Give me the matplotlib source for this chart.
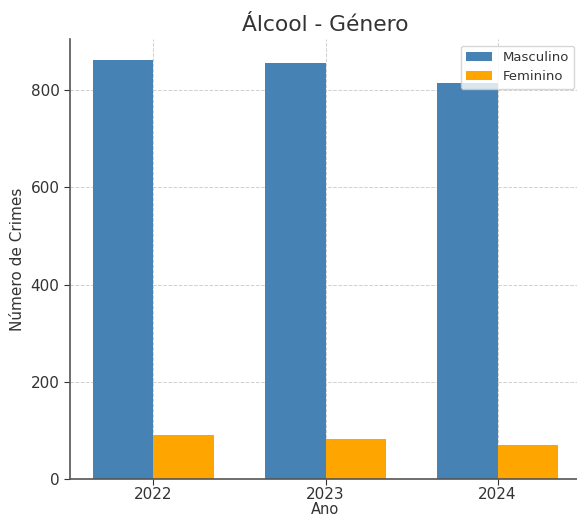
import matplotlib.pyplot as plt
import numpy as np

# dados
anos = ['2022', '2023', '2024']
masculino = [862, 855, 814]
feminino = [91, 83, 69]

plt.rcParams['font.family'] = 'DejaVu Sans'
txt = '#333333'

fig = plt.figure(figsize=(5.77, 5.18), dpi=100)
ax = fig.add_axes([70 / 577, 39 / 518, 511 / 577, 440 / 518])

x = np.arange(len(anos))
w = 0.35
ax.bar(x - w / 2, masculino, w, color='steelblue', label='Masculino', zorder=2)
ax.bar(x + w / 2, feminino, w, color='orange', label='Feminino', zorder=2)

ax.set_xticks(x)
ax.set_xticklabels(anos)
ax.set_title('Álcool - Género', fontsize=15.7, color=txt)
ax.set_xlabel('Ano', fontsize=10.5, color=txt, labelpad=0)
ax.set_ylabel('Número de Crimes', fontsize=11, color=txt)
ax.tick_params(colors=txt, labelsize=11, length=4)
ax.tick_params(axis='x', pad=1.5)
ax.grid(True, linestyle='--', color='#d0d0d0', linewidth=0.7, zorder=0)
for s in ['top', 'right']:
    ax.spines[s].set_visible(False)
for s in ['left', 'bottom']:
    ax.spines[s].set_color('#555555')
    ax.spines[s].set_linewidth(1.2)

leg = ax.legend(loc='upper right', fontsize=9.5)
for t in leg.get_texts():
    t.set_color(txt)

fig.savefig('out.png', dpi=100)
